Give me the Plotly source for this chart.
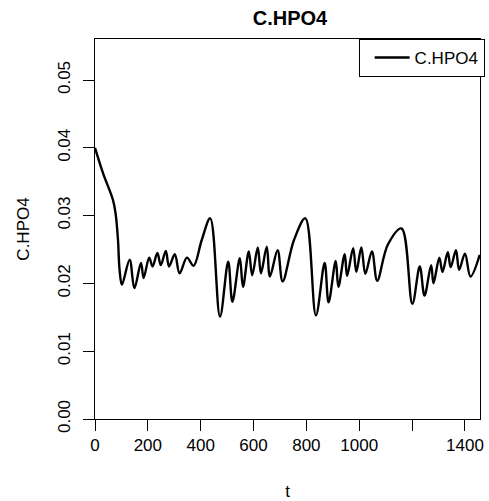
import plotly.graph_objects as go

# Time points (t) and C.HPO4 values
t = [0, 31, 68, 78, 87, 93, 102, 131, 149, 174, 184, 205, 218, 236, 249, 268, 280,
     302, 320, 348, 373, 404, 436, 473, 504, 520, 548, 560, 582, 595, 616, 628, 650,
     662, 691, 710, 753, 796, 836, 869, 884, 911, 921, 945, 954, 977, 989, 1008, 1023,
     1048, 1068, 1108, 1160, 1201, 1229, 1247, 1272, 1281, 1303, 1315, 1335, 1346,
     1366, 1378, 1400, 1421, 1456]
c_hpo4 = [0.0400, 0.0362, 0.0323, 0.0303, 0.0264, 0.0220, 0.0198, 0.0235, 0.0193,
          0.0230, 0.0208, 0.0238, 0.0225, 0.0245, 0.0227, 0.0248, 0.0225, 0.0243,
          0.0215, 0.0238, 0.0226, 0.0264, 0.0296, 0.0151, 0.0232, 0.0173, 0.0237,
          0.0195, 0.0247, 0.0212, 0.0253, 0.0215, 0.0254, 0.0210, 0.0249, 0.0203,
          0.0264, 0.0296, 0.0153, 0.0230, 0.0172, 0.0233, 0.0195, 0.0243, 0.0211,
          0.0252, 0.0217, 0.0253, 0.0214, 0.0247, 0.0204, 0.0257, 0.0281, 0.0170,
          0.0225, 0.0182, 0.0227, 0.0200, 0.0238, 0.0217, 0.0246, 0.0224, 0.0249,
          0.0220, 0.0244, 0.0210, 0.0242]

x_tickvals = [0, 200, 400, 600, 800, 1000, 1200, 1400]
x_ticktext = ["0", "200", "400", "600", "800", "1000", "", "1400"]
y_tickvals = [0.00, 0.01, 0.02, 0.03, 0.04, 0.05]
y_ticktext = ["0.00", "0.01", "0.02", "0.03", "0.04", "0.05"]

FONT = "Liberation Sans, Arial, Helvetica, sans-serif"

fig = go.Figure()
fig.add_trace(go.Scatter(
    x=t, y=c_hpo4, mode="lines", name="C.HPO4",
    line=dict(color="black", width=2.4, shape="spline", smoothing=1.0),
))

fig.update_layout(
    width=489, height=501,
    margin=dict(l=95, r=4, t=39, b=82),
    paper_bgcolor="white", plot_bgcolor="white",
    font=dict(family=FONT, size=17, color="black"),
    title=dict(text="<b>C.HPO4</b>", x=0.593, xanchor="center", y=0.964, yanchor="middle",
               font=dict(size=20, family=FONT)),
    showlegend=True,
    legend=dict(x=1.012, y=1, xanchor="right", yanchor="top",
                bordercolor="black", borderwidth=1, bgcolor="white",
                font=dict(size=17), itemwidth=35, indentation=10),
)
fig.update_xaxes(
    range=[0, 1457], tickvals=x_tickvals, ticktext=x_ticktext,
    showline=True, mirror=True, linecolor="black", linewidth=1,
    ticks="outside", ticklen=11, tickcolor="black", tickwidth=1,
    showgrid=False, zeroline=False,
    title=dict(text="t", standoff=30, font=dict(size=17)),
)
fig.update_yaxes(
    range=[0, 0.05605], tickvals=y_tickvals, ticktext=y_ticktext, tickangle=-90,
    showline=True, mirror=True, linecolor="black", linewidth=1,
    ticks="outside", ticklen=11, tickcolor="black", tickwidth=1,
    showgrid=False, zeroline=False, ticklabelstandoff=6,
    title=dict(text="C.HPO4", standoff=21, font=dict(size=17)),
)

fig.write_html("out.html")
